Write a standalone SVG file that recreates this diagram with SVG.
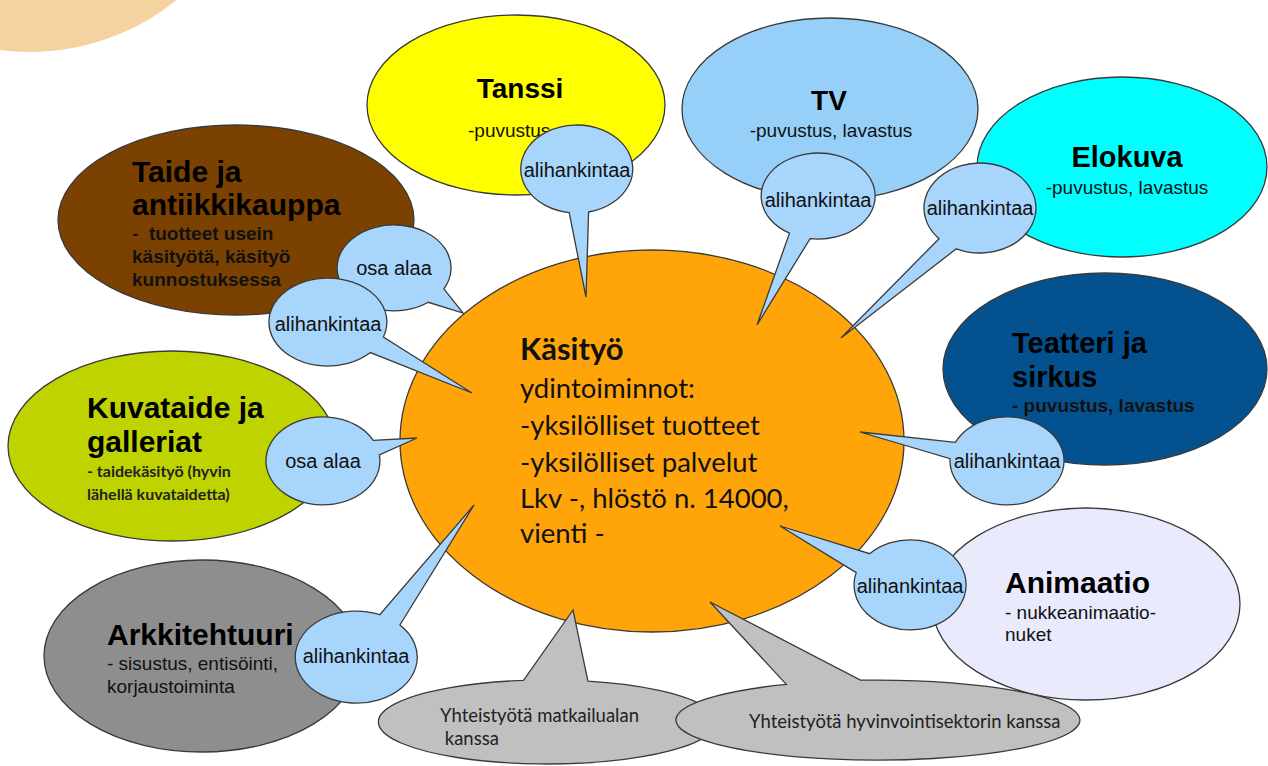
<svg xmlns="http://www.w3.org/2000/svg" width="1268" height="766" viewBox="0 0 1268 766">
<style>
  .node { stroke: #3a3a3a; stroke-width: 1.3; }
  .call { fill: #A8D5FB; stroke: #3a3a3a; stroke-width: 1.3; stroke-linejoin: miter; }
  .gcall { fill: #C0C0C0; stroke: #3a3a3a; stroke-width: 1.3; }
  .title { font-family: "Liberation Sans", Arial, sans-serif; font-weight: bold; fill: #000; }
  .sub { font-family: "Liberation Sans", Arial, sans-serif; font-size: 19px; fill: #111; }
  .subb { font-family: "Liberation Sans", Arial, sans-serif; font-size: 19px; font-weight: bold; fill: #111; }
  .bt { font-family: "Liberation Sans", Arial, sans-serif; font-size: 20px; fill: #111; text-anchor: middle; }
  .ctr { font-family: Lato, "Liberation Sans", sans-serif; font-size: 27.5px; fill: #111; }
  .gt { font-family: Lato, "Liberation Sans", sans-serif; font-size: 18.5px; fill: #222; }
</style>

<circle cx="30" cy="-180" r="232" fill="#F4D3A0"/>

<g id="taide">
  <ellipse class="node" cx="236" cy="220" rx="178" ry="95" fill="#7A4100"/>
  <text class="title" font-size="30" x="132" y="182">Taide ja</text>
  <text class="title" font-size="30" x="132" y="215">antiikkikauppa</text>
  <text class="subb" x="132" y="240" xml:space="preserve">-  tuotteet usein</text>
  <text class="subb" x="132" y="263">käsityötä, käsityö</text>
  <text class="subb" x="132" y="286">kunnostuksessa</text>
</g>

<g id="tanssi">
  <ellipse class="node" cx="516" cy="105" rx="149" ry="90" fill="#FFFF00"/>
  <text class="title" font-size="28" x="520" y="98" text-anchor="middle">Tanssi</text>
  <text class="sub" x="468" y="137">-puvustus</text>
</g>

<g id="tv">
  <ellipse class="node" cx="830" cy="109" rx="148" ry="91" fill="#96D0F9"/>
  <text class="title" font-size="28" x="829" y="110" text-anchor="middle">TV</text>
  <text class="sub" x="831" y="137" text-anchor="middle">-puvustus, lavastus</text>
</g>

<g id="elokuva">
  <ellipse class="node" cx="1122" cy="167" rx="145" ry="90" fill="#00FFFF"/>
  <text class="title" font-size="29" x="1127" y="167" text-anchor="middle">Elokuva</text>
  <text class="sub" x="1127" y="194" text-anchor="middle">-puvustus, lavastus</text>
</g>

<g id="teatteri">
  <ellipse class="node" cx="1105" cy="369" rx="162" ry="96" fill="#03528F"/>
  <text class="title" font-size="29" x="1012" y="353">Teatteri ja</text>
  <text class="title" font-size="29" x="1012" y="387">sirkus</text>
  <text class="subb" x="1012" y="412">- puvustus, lavastus</text>
</g>

<g id="kuvataide">
  <ellipse class="node" cx="172" cy="446" rx="164" ry="95" fill="#BED300"/>
  <text class="title" font-size="30" x="87" y="418">Kuvataide ja</text>
  <text class="title" font-size="30" x="87" y="452">galleriat</text>
  <text class="gt" font-weight="bold" style="font-size:16px" x="87" y="477">- taidekäsityö (hyvin</text>
  <text class="gt" font-weight="bold" style="font-size:16px" x="87" y="500">lähellä kuvataidetta)</text>
</g>

<g id="arkkitehtuuri">
  <ellipse class="node" cx="202" cy="656" rx="158" ry="96" fill="#8E8E8E"/>
  <text class="title" font-size="30" x="107" y="645">Arkkitehtuuri</text>
  <text class="sub" x="107" y="670">- sisustus, entisöinti,</text>
  <text class="sub" x="107" y="693">korjaustoiminta</text>
</g>

<g id="animaatio">
  <ellipse class="node" cx="1086" cy="604" rx="154" ry="96" fill="#E9EAFC"/>
  <text class="title" font-size="30" x="1005" y="593">Animaatio</text>
  <text class="sub" x="1005" y="619">- nukkeanimaatio-</text>
  <text class="sub" x="1005" y="641">nuket</text>
</g>

<g id="kasityo">
  <ellipse class="node" cx="652" cy="441" rx="252" ry="191" fill="#FFA50A"/>
  <text class="ctr" font-weight="bold" style="font-size:31px" x="520" y="360">Käsityö</text>
  <text class="ctr" x="520" y="398">ydintoiminnot:</text>
  <text class="ctr" x="520" y="435">-yksilölliset tuotteet</text>
  <text class="ctr" x="520" y="472">-yksilölliset palvelut</text>
  <text class="ctr" x="520" y="508">Lkv -, hlöstö n. 14000,</text>
  <text class="ctr" x="520" y="543">vienti -</text>
</g>

<g id="connectors">
  <g id="c-tanssi">
    <path class="call" d="M588.6,212 A56,44 0 1 0 569.2,212.6 L586,297 Z"/>
    <text class="bt" x="577" y="177">alihankintaa</text>
  </g>
  <g id="c-tv">
    <path class="call" d="M810.1,238.6 A57,43 0 1 0 789.5,233.2 L757,325 Z"/>
    <text class="bt" x="818" y="207">alihankintaa</text>
  </g>
  <g id="c-elokuva">
    <path class="call" d="M956.3,248.8 A56,45 0 1 0 939,238.7 L841,338 Z"/>
    <text class="bt" x="980" y="215">alihankintaa</text>
  </g>
  <g id="c-teatteri">
    <path class="call" d="M950.1,458.7 A57,44 0 1 0 955.3,442.4 L860,432 Z"/>
    <text class="bt" x="1007" y="468">alihankintaa</text>
  </g>
  <g id="c-animaatio">
    <path class="call" d="M856.2,572.6 A56,45 0 1 0 869.7,553.7 L780,526 Z"/>
    <text class="bt" x="910" y="593">alihankintaa</text>
  </g>
  <g id="c-taide-osa">
    <path class="call" d="M443.9,288.8 A57,43 0 1 0 428.3,302.3 L463,313 Z"/>
    <text class="bt" x="394" y="275">osa alaa</text>
  </g>
  <g id="c-taide-ali">
    <path class="call" d="M383.4,337 A59,44 0 1 0 370.4,352.6 L472,393 Z"/>
    <text class="bt" x="328" y="331">alihankintaa</text>
  </g>
  <g id="c-kuvataide">
    <path class="call" d="M373.3,440.3 A57,44 0 1 0 379.4,454.9 L417,438 Z"/>
    <text class="bt" x="323" y="468">osa alaa</text>
  </g>
  <g id="c-arkkitehtuuri">
    <path class="call" d="M379.8,614.7 A61,46 0 1 0 399.9,625 L474,505 Z"/>
    <text class="bt" x="356" y="663">alihankintaa</text>
  </g>
  <g id="c-matkailu">
    <path class="gcall" d="M523.5,680.4 A169,42 0 1 0 587.9,681.2 L573,610 Z"/>
    <text class="gt" x="440" y="722">Yhteistyötä matkailualan</text>
    <text class="gt" x="440" y="745" xml:space="preserve"> kanssa</text>
  </g>
  <g id="c-hyvinvointi">
    <path class="gcall" d="M786.3,684.4 A202,40 0 1 0 860.4,680.2 L710,602 Z"/>
    <text class="gt" x="749" y="728">Yhteistyötä hyvinvointisektorin kanssa</text>
  </g>
</g>
</svg>
